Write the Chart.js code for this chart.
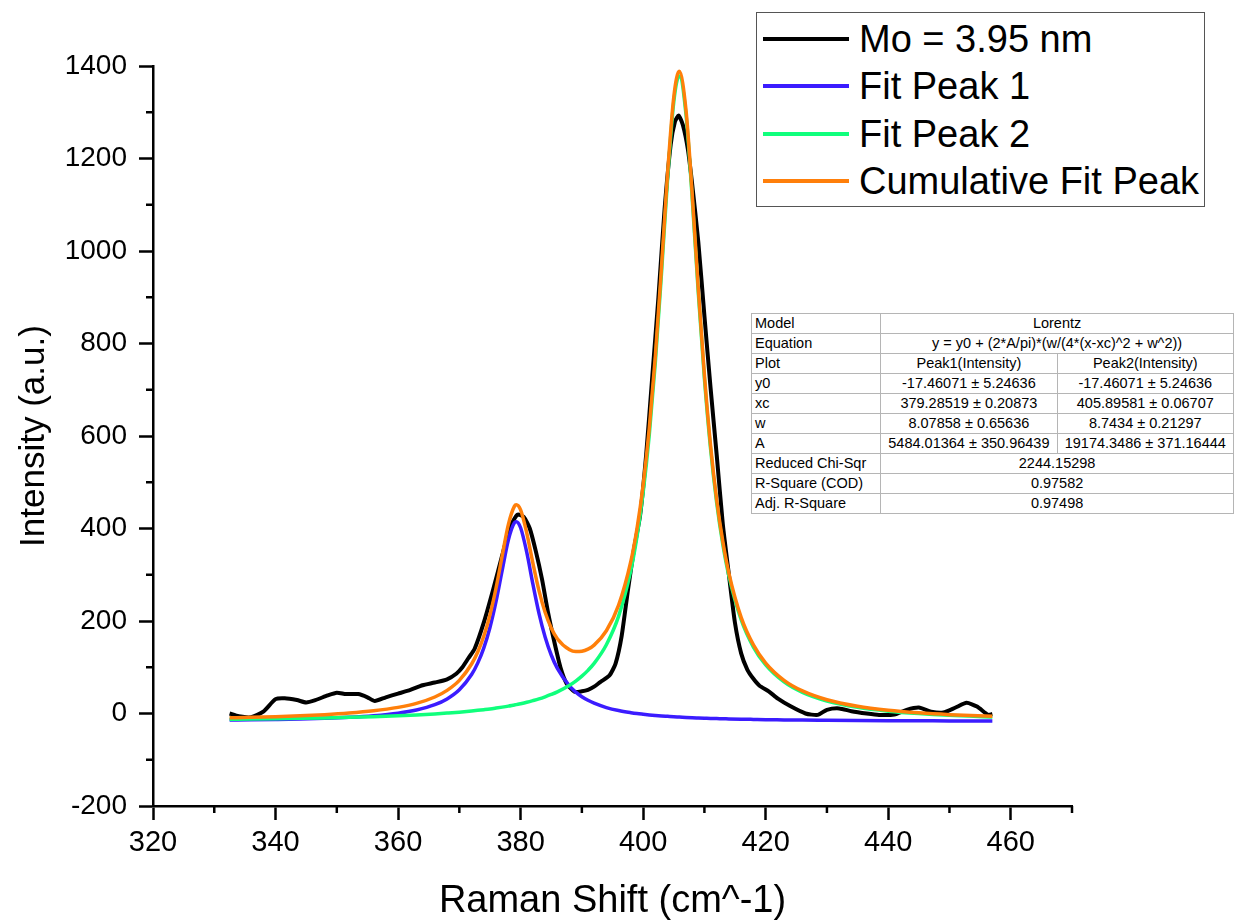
<!DOCTYPE html>
<html>
<head>
<meta charset="utf-8">
<script src="https://cdn.jsdelivr.net/npm/chart.js@4.4.1/dist/chart.umd.min.js"></script>
<style>
  body { margin: 0; background: #fff; font-family: "Liberation Sans", Arial, sans-serif; }
  #wrap { position: relative; width: 1238px; height: 924px; }
  #legend {
    position: absolute; left: 756px; top: 12px; width: 447px; height: 193px;
    border: 1.5px solid #555; background: #fff;
  }
  .leg-row { position: absolute; left: 0; height: 46px; width: 100%; }
  .leg-line { position: absolute; left: 6px; width: 86px; top: 21px; height: 4px; }
  .leg-text { position: absolute; left: 102px; top: 0; font-size: 38px; line-height: 46px; color: #000; white-space: nowrap; }
  #fitTable {
    position: absolute; left: 751px; top: 313px; width: 483px;
    border-collapse: collapse; font-size: 14.5px; color: #000; background: #fff;
    border: 1.5px solid #666;
  }
  #fitTable td { border: 1px solid #b5b5b5; height: 19px; padding: 0 3px; line-height: 19px; white-space: nowrap; }
  #fitTable td.c { text-align: center; }
</style>
</head>
<body>
<div id="wrap">
  <canvas id="ramanChart" width="1238" height="924"></canvas>
  <div id="legend"></div>
  <table id="fitTable"></table>
</div>
<script>
const specX = [332.5, 334, 336, 338, 340, 341.5, 343.5, 345, 346.5, 348.5, 350, 351.5, 353.5, 355, 356.2, 358, 360, 362, 364, 366, 368, 369.5, 370.5, 371.5, 372.5, 374, 375.5, 377, 378.3, 379.5, 380.5, 381.5, 382.5, 383.5, 384.5, 385.5, 386.5, 387.5, 388.8, 390, 391, 392, 393, 394.5, 395.5, 396.5, 397.5, 398.5, 399.5, 400.5, 401.5, 402.5, 403.5, 404.5, 405.2, 405.8, 406.5, 407.3, 408, 409, 410, 411, 412, 413, 414, 415, 416, 417, 418, 419, 420.5, 422, 424, 426.5, 428.5, 430, 432, 434, 436.5, 438.5, 441, 443, 445, 447, 449, 451, 452.8, 454.5, 456.3, 457];
const specY = [0, -6, -8, 4, 31, 33, 29, 24, 29, 39, 45, 42, 42, 35, 27, 35, 43, 51, 61, 67, 74, 86, 100, 120, 140, 197, 267, 342, 404, 430, 425, 400, 350, 290, 217, 155, 100, 65, 47, 48, 51, 58, 68, 82, 108, 168, 265, 355, 428, 560, 730, 900, 1090, 1230, 1280, 1293, 1272, 1220, 1145, 1020, 860, 705, 560, 410, 300, 195, 130, 95, 75, 60, 48, 32, 16, 0, -3, 8, 11, 5, 0, -3, -2, 8, 13, 4, 2, 13, 23, 15, -3, -1];

// fitted curves
const fitX = [332.5, 336, 340, 344, 348, 352, 356, 360, 363, 366, 368, 370, 372, 373, 374, 375, 376, 377, 378, 379, 379.3, 380, 381, 382, 383, 384, 385, 386, 388, 389, 390, 391, 392, 394, 396, 398, 399, 400, 401, 402, 403, 404, 405, 405.9, 407, 408, 409, 410, 411, 412, 413, 414, 416, 418, 420, 423, 426, 430, 435, 440, 445, 450, 457];
const peak1Y = [-14.3, -13.7, -12.9, -11.9, -10.4, -8.2, -4.8, 0.7, 7.6, 19.1, 31.6, 51.3, 84.2, 108.9, 141.9, 185.9, 242.7, 309.9, 375.0, 412.6, 414.7, 401.6, 348.7, 280.2, 216.7, 165.5, 126.5, 97.4, 59.0, 46.2, 36.3, 28.5, 22.2, 12.8, 6.4, 1.8, -0.1, -1.6, -3.0, -4.2, -5.3, -6.2, -7.1, -7.7, -8.5, -9.1, -9.6, -10.1, -10.6, -11.0, -11.3, -11.7, -12.3, -12.8, -13.3, -13.8, -14.3, -14.7, -15.2, -15.6, -15.8, -16.1, -16.3];
const peak2Y = [-12.5, -12.0, -11.3, -10.5, -9.5, -8.3, -6.8, -4.9, -3.1, -0.9, 0.9, 2.9, 5.4, 6.8, 8.3, 9.9, 11.8, 13.8, 16.0, 18.5, 19.2, 21.2, 24.3, 27.8, 31.6, 36.1, 41.1, 46.8, 61.2, 70.1, 80.7, 93.3, 108.3, 148.7, 210.5, 310.1, 382.8, 477.8, 601.9, 760.6, 952.8, 1157.6, 1322.3, 1378.6, 1294.8, 1116.0, 910.7, 724.6, 573.3, 455.9, 366.0, 297.2, 202.7, 143.6, 104.9, 68.2, 45.6, 27.0, 13.4, 5.1, -0.2, -3.9, -7.3];
const cumulY = [-9.3, -8.3, -6.8, -4.9, -2.5, 0.9, 5.8, 13.3, 21.9, 35.7, 50.0, 71.7, 107.0, 133.1, 167.7, 213.3, 271.9, 341.2, 408.5, 448.5, 451.4, 440.3, 390.5, 325.5, 265.8, 219.0, 185.1, 161.7, 137.6, 133.8, 134.5, 139.2, 147.9, 178.9, 234.4, 329.3, 400.2, 493.7, 616.3, 773.9, 965.0, 1168.9, 1332.8, 1388.4, 1303.8, 1124.4, 918.6, 732.0, 580.2, 462.3, 372.1, 303.0, 207.9, 148.3, 109.1, 71.8, 48.8, 29.7, 15.6, 7.0, 1.4, -2.5, -6.2];

const seriesNames = ['Mo = 3.95 nm', 'Fit Peak 1', 'Fit Peak 2', 'Cumulative Fit Peak'];

const xTicks = [320, 340, 360, 380, 400, 420, 440, 460];
const xMinor = [330, 350, 370, 390, 410, 430, 450, 470];
const yTicks = [-200, 0, 200, 400, 600, 800, 1000, 1200, 1400];
const yMinor = [-100, 100, 300, 500, 700, 900, 1100, 1300];

const fitRows = [
  ['Model', 'Lorentz'],
  ['Equation', 'y = y0 + (2*A/pi)*(w/(4*(x-xc)^2 + w^2))'],
  ['Plot', 'Peak1(Intensity)', 'Peak2(Intensity)'],
  ['y0', '-17.46071 \u00b1 5.24636', '-17.46071 \u00b1 5.24636'],
  ['xc', '379.28519 \u00b1 0.20873', '405.89581 \u00b1 0.06707'],
  ['w', '8.07858 \u00b1 0.65636', '8.7434 \u00b1 0.21297'],
  ['A', '5484.01364 \u00b1 350.96439', '19174.3486 \u00b1 371.16444'],
  ['Reduced Chi-Sqr', '2244.15298'],
  ['R-Square (COD)', '0.97582'],
  ['Adj. R-Square', '0.97498']
];

const pts = (xs, ys) => xs.map((x, i) => ({ x: x, y: ys[i] }));

const minorTicks = {
  id: 'minorTicks',
  afterDraw(chart) {
    const { ctx } = chart;
    const sx = chart.scales.x, sy = chart.scales.y;
    ctx.save();
    ctx.strokeStyle = '#000';
    ctx.lineWidth = 2.5;
    xMinor.forEach(v => {
      const px = sx.getPixelForValue(v);
      ctx.beginPath(); ctx.moveTo(px, sx.top); ctx.lineTo(px, sx.top + 7); ctx.stroke();
    });
    yMinor.forEach(v => {
      const py = sy.getPixelForValue(v);
      ctx.beginPath(); ctx.moveTo(sy.right, py); ctx.lineTo(sy.right - 7, py); ctx.stroke();
    });
    ctx.restore();
  }
};

const fontFam = '"Liberation Sans", Arial, sans-serif';

const chart = new Chart(document.getElementById('ramanChart'), {
  type: 'line',
  data: {
    datasets: [
      { label: seriesNames[0], data: pts(specX, specY), borderColor: '#000000', borderWidth: 4, tension: 0.2, order: 4 },
      { label: seriesNames[1], data: pts(fitX, peak1Y), borderColor: '#3b1cff', borderWidth: 3.5, cubicInterpolationMode: 'monotone', order: 3 },
      { label: seriesNames[2], data: pts(fitX, peak2Y), borderColor: '#10ff7c', borderWidth: 3.5, cubicInterpolationMode: 'monotone', order: 2 },
      { label: seriesNames[3], data: pts(fitX, cumulY), borderColor: '#ff7f0a', borderWidth: 3.5, cubicInterpolationMode: 'monotone', order: 1 }
    ]
  },
  options: {
    responsive: false,
    animation: false,
    devicePixelRatio: 1,
    layout: { padding: { top: 66, right: 166, left: 0, bottom: 0 } },
    elements: { point: { radius: 0 } },
    plugins: { legend: { display: false }, tooltip: { enabled: false } },
    scales: {
      x: {
        type: 'linear', min: 320, max: 470,
        afterBuildTicks: s => { s.ticks = xTicks.map(v => ({ value: v })); },
        afterFit: s => { s.height = 118; },
        ticks: { font: { family: fontFam, size: 29 }, color: '#000', padding: 6, maxRotation: 0, autoSkip: false, callback: v => String(v) },
        grid: { drawOnChartArea: false, tickLength: 14, tickWidth: 2.5, tickColor: '#000' },
        border: { color: '#000', width: 2.5 },
        title: { display: true, text: 'Raman Shift (cm^-1)', color: '#000', font: { family: fontFam, size: 38 }, padding: { top: 0, bottom: 0 } }
      },
      y: {
        type: 'linear', min: -200, max: 1400,
        afterBuildTicks: s => { s.ticks = yTicks.map(v => ({ value: v })); },
        afterFit: s => { s.width = 153; },
        ticks: { font: { family: fontFam, size: 28 }, color: '#000', padding: 12, autoSkip: false, callback: v => String(v) },
        grid: { drawOnChartArea: false, tickLength: 14, tickWidth: 2.5, tickColor: '#000' },
        border: { color: '#000', width: 2.5 },
        title: { display: true, text: 'Intensity (a.u.)', color: '#000', font: { family: fontFam, size: 35 }, padding: { top: 13, bottom: 0 } }
      }
    }
  },
  plugins: [minorTicks]
});

// legend box built from the datasets
const legend = document.getElementById('legend');
chart.data.datasets.forEach((ds, i) => {
  const row = document.createElement('div');
  row.className = 'leg-row';
  row.style.top = (3 + i * 47.3) + 'px';
  row.innerHTML = '<div class="leg-line" style="background:' + ds.borderColor + '"></div><div class="leg-text">' + ds.label + '</div>';
  legend.appendChild(row);
});

// fit parameter table
const table = document.getElementById('fitTable');
fitRows.forEach(r => {
  const tr = document.createElement('tr');
  r.forEach((cell, j) => {
    const td = document.createElement('td');
    td.textContent = cell;
    if (j > 0) td.className = 'c';
    if (j === 0) td.style.width = '123px';
    if (r.length === 2 && j === 1) td.colSpan = 2;
    if (r.length === 3 && j > 0) td.style.width = '170px';
    tr.appendChild(td);
  });
  table.appendChild(tr);
});
</script>
</body>
</html>
